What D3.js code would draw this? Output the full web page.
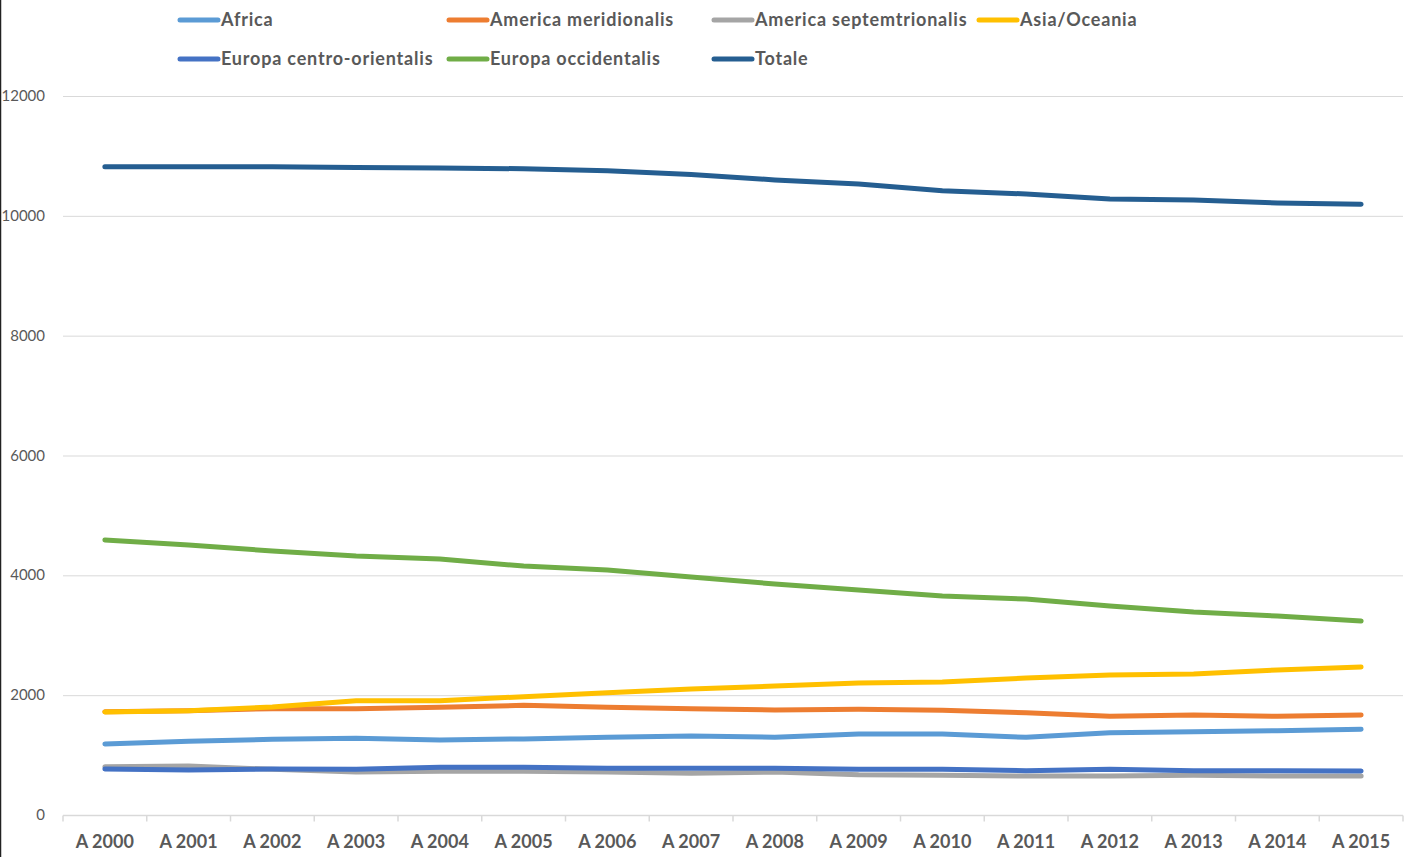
<!DOCTYPE html>
<html>
<head>
<meta charset="utf-8">
<script src="https://cdn.jsdelivr.net/npm/d3@7"></script>
<style>
  body { margin: 0; background: #fff; }
  svg { display: block; }
</style>
</head>
<body>
<svg id="chart"></svg>
<script>
const years = ['A 2000', 'A 2001', 'A 2002', 'A 2003', 'A 2004', 'A 2005', 'A 2006', 'A 2007',
  'A 2008', 'A 2009', 'A 2010', 'A 2011', 'A 2012', 'A 2013', 'A 2014', 'A 2015'];

const africa = [1185, 1230, 1263, 1280, 1252, 1270, 1297, 1318, 1297, 1352, 1352, 1297, 1374, 1391, 1408, 1430];
const americaMeridionalis = [1725, 1740, 1775, 1775, 1797, 1830, 1797, 1775, 1752, 1763, 1747, 1708, 1647, 1669, 1647, 1669];
const americaSeptemtrionalis = [806, 818, 762, 718, 729, 729, 718, 696, 718, 673, 662, 651, 651, 662, 651, 651];
const asiaOceania = [1719, 1740, 1802, 1908, 1908, 1975, 2042, 2103, 2153, 2203, 2220, 2286, 2336, 2353, 2420, 2470];
const europaCentroOrientalis = [768, 751, 768, 762, 796, 796, 779, 779, 779, 762, 762, 740, 762, 740, 740, 734];
const europaOccidentalis = [4590, 4506, 4406, 4322, 4272, 4155, 4089, 3972, 3855, 3755, 3655, 3605, 3488, 3388, 3321, 3238];
const totale = [10820, 10820, 10820, 10808, 10797, 10786, 10753, 10690, 10600, 10530, 10420, 10365, 10280, 10265, 10215, 10192];

const yTicks = [0, 2000, 4000, 6000, 8000, 10000, 12000];

const series = [
  { name: 'Africa', values: africa, color: '#5B9BD5' },
  { name: 'America meridionalis', values: americaMeridionalis, color: '#ED7D31' },
  { name: 'America septemtrionalis', values: americaSeptemtrionalis, color: '#A5A5A5' },
  { name: 'Asia/Oceania', values: asiaOceania, color: '#FFC000' },
  { name: 'Europa centro-orientalis', values: europaCentroOrientalis, color: '#4472C4' },
  { name: 'Europa occidentalis', values: europaOccidentalis, color: '#70AD47' },
  { name: 'Totale', values: totale, color: '#255E91' }
];

const width = 1414;
const height = 857;
const margin = { top: 96, right: 10, bottom: 42, left: 63 };

const svg = d3.select('#chart')
  .attr('width', width)
  .attr('height', height);

// frame edge like the screenshot
svg.append('line')
  .attr('x1', 0.5).attr('x2', 0.5).attr('y1', 0).attr('y2', height)
  .attr('stroke', '#222').attr('stroke-width', 1.5);

const x = d3.scaleBand()
  .domain(years)
  .range([margin.left, width - margin.right - 1])
  .paddingInner(0).paddingOuter(0);

const y = d3.scaleLinear()
  .domain([0, 12000])
  .range([height - margin.bottom, margin.top]);

// gridlines
svg.append('g')
  .selectAll('line')
  .data(yTicks.filter(d => d > 0))
  .enter()
  .append('line')
  .attr('x1', margin.left)
  .attr('x2', x.range()[1])
  .attr('y1', d => y(d) + 0.5)
  .attr('y2', d => y(d) + 0.5)
  .attr('stroke', '#d9d9d9')
  .attr('stroke-width', 1);

// y labels
svg.append('g')
  .selectAll('text')
  .data(yTicks)
  .enter()
  .append('text')
  .attr('x', 45)
  .attr('y', d => y(d) + 5)
  .attr('text-anchor', 'end')
  .attr('fill', '#595959')
  .style('font-family', 'Lato, "Open Sans", sans-serif')
  .style('font-size', '15px')
  .text(d => d);

// x axis
const xAxis = svg.append('g')
  .attr('transform', `translate(0,${y(0) + 0.5})`);

xAxis.append('line')
  .attr('x1', margin.left).attr('x2', x.range()[1])
  .attr('stroke', '#d9d9d9').attr('stroke-width', 1.5);

xAxis.selectAll('.tick-mark')
  .data(years.concat(['end']))
  .enter()
  .append('line')
  .attr('class', 'tick-mark')
  .attr('x1', (d, i) => i < years.length ? x(d) : x.range()[1])
  .attr('x2', (d, i) => i < years.length ? x(d) : x.range()[1])
  .attr('y1', 0).attr('y2', 6)
  .attr('stroke', '#d9d9d9').attr('stroke-width', 1.5);

xAxis.selectAll('.xlabel')
  .data(years)
  .enter()
  .append('text')
  .attr('class', 'xlabel')
  .attr('x', d => x(d) + x.bandwidth() / 2)
  .attr('y', 32)
  .attr('text-anchor', 'middle')
  .attr('fill', '#595959')
  .style('font-family', 'Lato, "Open Sans", sans-serif')
  .style('font-weight', 'bold')
  .style('font-size', '18px')
  .text(d => d);

// lines
const line = d3.line()
  .x((d, i) => x(years[i]) + x.bandwidth() / 2)
  .y(d => y(d));

svg.append('g')
  .selectAll('path')
  .data(series)
  .enter()
  .append('path')
  .attr('d', d => line(d.values))
  .attr('fill', 'none')
  .attr('stroke', d => d.color)
  .attr('stroke-width', 5)
  .attr('stroke-linecap', 'round')
  .attr('stroke-linejoin', 'round');

// legend
const legendCols = [178, 447, 712, 977];
const legendRows = [20, 59];

const legend = svg.append('g')
  .selectAll('g')
  .data(series)
  .enter()
  .append('g')
  .attr('transform', (d, i) => `translate(${legendCols[i % 4]},${legendRows[Math.floor(i / 4)]})`);

legend.append('line')
  .attr('x1', 2).attr('x2', 40)
  .attr('stroke', d => d.color)
  .attr('stroke-width', 5)
  .attr('stroke-linecap', 'round');

legend.append('text')
  .attr('x', 43)
  .attr('y', 6)
  .attr('fill', '#595959')
  .style('font-family', 'Lato, "Open Sans", sans-serif')
  .style('font-weight', 'bold')
  .style('font-size', '18px')
  .style('letter-spacing', '0.8px')
  .text(d => d.name);
</script>
</body>
</html>
